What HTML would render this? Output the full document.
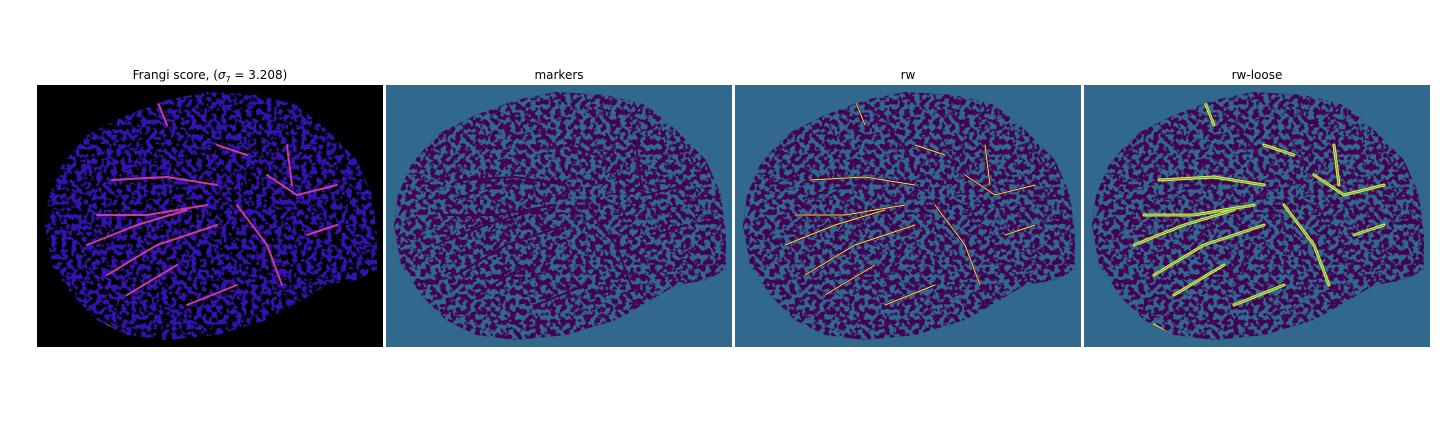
<!DOCTYPE html>
<html><head><meta charset="utf-8"><style>
html,body{margin:0;padding:0;background:#fff;width:1440px;height:432px;overflow:hidden}
svg{position:absolute;left:0;top:0}
text{font-family:"DejaVu Sans","Liberation Sans",sans-serif;font-size:12px;fill:#000}
</style></head><body>
<svg width="1440" height="432">
<defs>
<filter id="nz1" x="0" y="0" width="100%" height="100%" color-interpolation-filters="sRGB">
 <feTurbulence type="fractalNoise" baseFrequency="0.2" numOctaves="2" seed="3"/>
 <feColorMatrix type="matrix" values="0 0 0 0 0.2  0 0 0 0 0.07  0 0 0 0 0.7  12 0 0 0 -5.6"/>
</filter>
<filter id="nz2" x="0" y="0" width="100%" height="100%" color-interpolation-filters="sRGB">
 <feTurbulence type="fractalNoise" baseFrequency="0.2" numOctaves="2" seed="7"/>
 <feColorMatrix type="matrix" values="0 0 0 0 0.19  0 0 0 0 0.41  0 0 0 0 0.56  12 0 0 0 -5.6"/>
</filter>
<path id="blob" d="M8,140 L12,110 L25,80 L50,50 L90,30 L130,15 L170,7 L220,10 L260,20 L290,45 L320,75 L335,110 L340,150 L340,185 L320,195 L290,200 L265,215 L230,235 L180,250 L130,255 L90,250 L60,235 L35,210 L15,180 Z"/>
<clipPath id="cb"><use href="#blob"/></clipPath>
</defs>
<script>
const panels=["Frangi score, (","markers","rw","rw-loose"];
const panelX=[37,386,735,1084];
const vessels=[[[120,15],[130,40]],[[135,12],[140,2]],[[75,95],[130,92],[180,100]],[[60,130],[110,130],[170,120]],[[50,160],[100,140],[150,125]],[[70,190],[120,160],[180,140]],[[90,210],[140,180]],[[200,120],[230,160],[245,200]],[[230,90],[260,110],[300,100]],[[180,60],[210,70]],[[250,60],[255,100]],[[270,150],[300,140]],[[150,220],[200,200]],[[70,240],[95,255]]];
const ns="http://www.w3.org/2000/svg";
const svg=document.currentScript.parentNode;
panels.forEach((p,i)=>{
 const g=document.createElementNS(ns,"g");
 
 
 g.setAttribute("transform",`translate(${panelX[i]},85)`);
 const bg=document.createElementNS(ns,"rect");
 bg.setAttribute("width",346);bg.setAttribute("height",262);
 bg.setAttribute("fill",i==0?"#000":"#30688e");
 
 g.appendChild(bg);
 const b=document.createElementNS(ns,"use");
 b.setAttribute("href","#blob");b.setAttribute("fill",i==0?"#000":"#440154");
 
 g.appendChild(b);
 const n=document.createElementNS(ns,"rect");
 n.setAttribute("width",346);n.setAttribute("height",262);
 n.setAttribute("filter",i==0?"url(#nz1)":"url(#nz2)");
 n.setAttribute("clip-path","url(#cb)");
 
 g.appendChild(n);
 const vg=document.createElementNS(ns,"g");
 vg.setAttribute("clip-path","url(#cb)");
 g.appendChild(vg);
 vessels.forEach(v=>{
  const l=document.createElementNS(ns,"polyline");
  l.setAttribute("points",v.map(q=>q.join(",")).join(" "));
  l.setAttribute("fill","none");
  const c=i==0?"#c83c9c":i==3?"#fde725":"#440154";
  l.setAttribute("stroke",c);l.setAttribute("stroke-width",i==3?3:2);
  l.setAttribute("stroke-linecap","round");
  
  vg.appendChild(l);
  if(i>=2){const l2=l.cloneNode();l2.setAttribute("stroke",i==3?"#35b779":"#fde725");l2.setAttribute("stroke-width",1);vg.appendChild(l2);}
 });
 svg.appendChild(g);
 const t=document.createElementNS(ns,"text");
 t.setAttribute("x",panelX[i]+173);t.setAttribute("y",79);t.setAttribute("text-anchor","middle");
 
 
 t.appendChild(document.createTextNode(p));
 if(i==0){
  const a=document.createElementNS(ns,"tspan");a.setAttribute("font-style","italic");a.textContent="σ";t.appendChild(a);
  const s=document.createElementNS(ns,"tspan");s.setAttribute("font-size","8");s.setAttribute("dy","3");s.textContent="7";t.appendChild(s);
  const r=document.createElementNS(ns,"tspan");r.setAttribute("dy","-3");r.textContent=" = 3.208)";t.appendChild(r);
 }
 svg.appendChild(t);
});
</script>
</svg>
</body></html>
